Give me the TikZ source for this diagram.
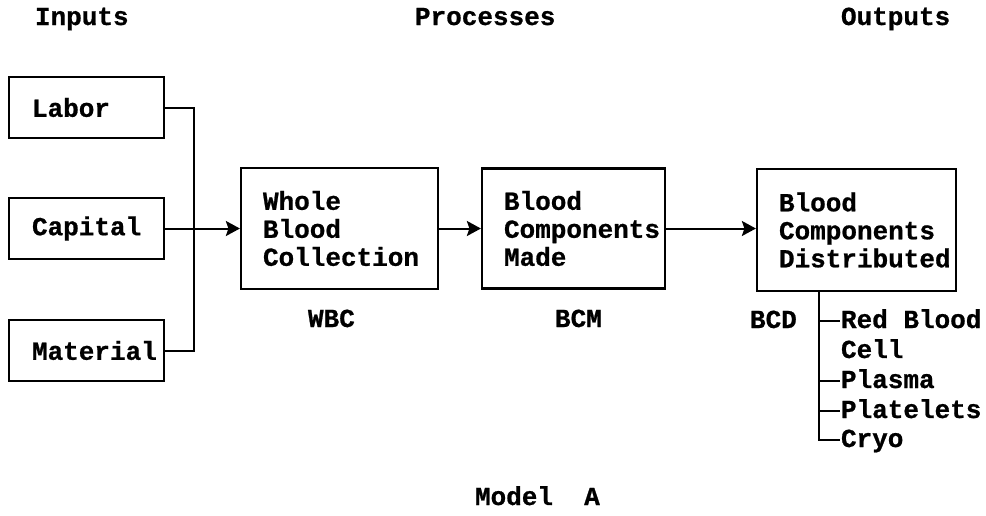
\documentclass[tikz,border=0pt]{standalone}
\usepackage{fontspec}
\setmonofont{Liberation Mono}[BoldFeatures={FakeBold=0.8}]
\usetikzlibrary{arrows.meta}

\begin{document}
\begin{tikzpicture}[x=1pt,y=-1pt,line width=2pt,
  font=\ttfamily\bfseries\fontsize{26}{28}\selectfont,
  box/.style={draw,line width=2.2pt,align=left,inner xsep=22pt,inner ysep=0pt},
  txt/.style={inner sep=0pt,anchor=base west},
  item/.style={inner sep=0pt,anchor=base west,text height=15pt,text depth=0pt},
  flow/.style={-{Stealth[length=14pt,width=15pt,inset=2.5pt]}}]

\useasboundingbox (0,0) rectangle (986,515);

  % column headings
  \node (inp) at (34,25) [txt] {Inputs};
  \node (proc) at (414,25) [txt] {Processes};
  \node (outp) at (840,25) [txt] {Outputs};

  % inputs
  \node (lab) at (86.5,107.5) [box,inner xsep=23pt,text width=109pt,minimum height=61pt] {Labor};
  \node (cap) at (86.5,228.5) [box,inner xsep=23pt,text width=109pt,minimum height=61pt] {Capital};
  \node (mat) at (86.5,350.5) [box,inner xsep=23pt,text width=109pt,minimum height=61pt] {Material};

  % processes
  \node (wbc) at (339.5,228.5) [box,text width=153pt,minimum height=121pt] {Whole\\Blood\\Collection};
  \node (bcm) at (573.5,228.5) [box,text width=139pt,minimum height=120pt] {Blood\\Components\\Made};
  \node (bcd) at (856.5,230) [box,text width=155pt,minimum height=122pt] {Blood\\Components\\Distributed};

  \node (wbcl) at (307,327) [txt] {WBC};
  \node (bcml) at (554,327) [txt] {BCM};
  \node (bcdl) at (749,328) [txt] {BCD};

  % outputs
  \node (rbc) at (840,328) [item] {Red Blood};
  \node (cell) at (840,358) [item] {Cell};
  \node (pla) at (840,388) [item] {Plasma};
  \node (plt) at (840,418) [item] {Platelets};
  \node (cry) at (840,447) [item] {Cryo};

  \node (mod) at (474,505) [txt] {Model\ \ A};

  \coordinate (jn) at (194,228.5);
  \coordinate (trunk) at (819,291);

\draw (lab.east) -| (jn) |- (mat.east);
\draw[flow] (cap.east) -- (wbc.west);
\draw[flow] (wbc.east) -- (bcm.west);
\draw[flow] (bcm.east) -- (bcm.east -| bcd.west);

\draw 
   (trunk) |- (rbc.west)
   (trunk) |- (pla.west)
   (trunk) |- (plt.west)
   (trunk) |- (cry.west);
\end{tikzpicture}
\end{document}
